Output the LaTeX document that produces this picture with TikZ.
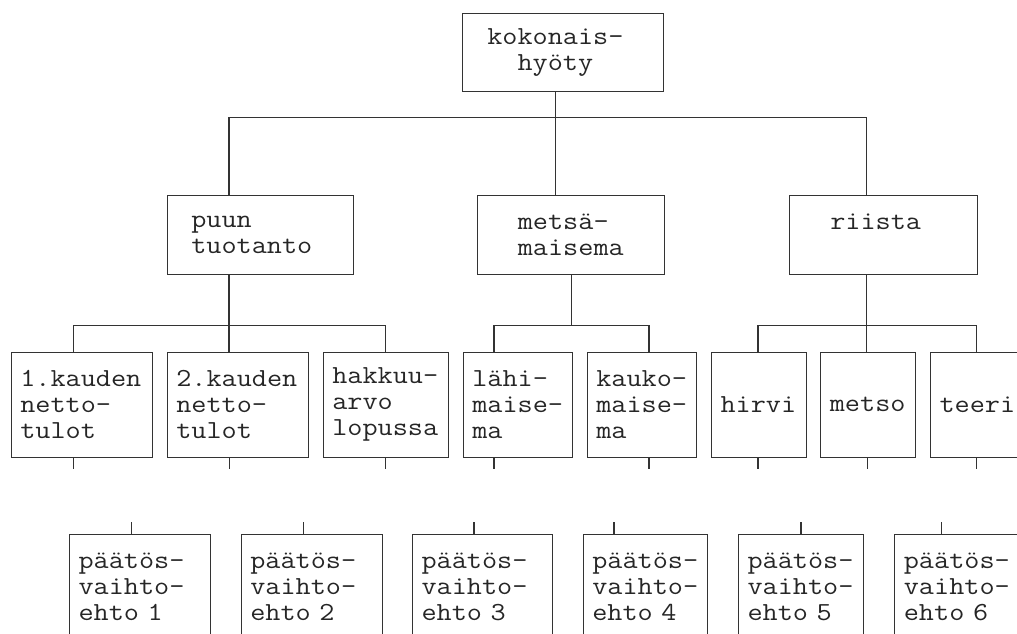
\documentclass[tikz,border=0pt]{standalone}
\usepackage{fontspec}
\usepackage{tikz}
\usetikzlibrary{positioning,calc}
\newfontfamily\boxfont[FakeStretch=1.13]{Latin Modern Mono}
\tikzstyle{box} = [draw=black!80, line width=1.1pt, rectangle, anchor=north west,
    align=left, inner xsep=9pt, inner ysep=0pt, text=black!85,
    font=\boxfont\fontsize{26}{26}\selectfont]
\tikzstyle{goal} = [box, minimum height=78.3pt]
\tikzstyle{crit} = [box, minimum height=105pt]
\tikzstyle{alt} = [box, minimum height=105pt]
\tikzstyle{link} = [draw=black!80, line width=1.1pt]
\begin{document}
\begin{tikzpicture}[x=1pt, y=-1pt]
		\path[use as bounding box, clip] (0,0) rectangle (1017,633);

		% top and second level
		\node[goal, text width=151.6pt, inner xsep=25pt] (total) at (461.7,12.7) {kokonais-\\\phantom{ko}hyöty};
		\node[goal, text width=138.6pt, inner xsep=24pt] (wood) at (166.7,195.3) {puun\\tuotanto};
		\node[goal, text width=106.7pt, inner xsep=40pt] (view) at (477.3,195.3) {metsä-\\maisema};
		\node[goal, text width=106.3pt, inner xsep=41pt] (game) at (788.7,195.3) {riista\\~};

		% criteria
		\node[crit, text width=123.6pt] (c1) at (10.7,351.7) {1.kauden\\netto-\\tulot};
		\node[crit, text width=123.3pt] (c2) at (166.7,351.7) {2.kauden\\netto-\\tulot};
		\node[crit, text width=107pt] (c3) at (322.7,351.7) {hakkuu-\\arvo\\lopussa};
		\node[crit, text width=91.3pt] (c4) at (462.7,351.7) {lähi-\\maise-\\ma};
		\node[crit, text width=91.3pt] (c5) at (586.7,351.7) {kauko-\\maise-\\ma};
		\node[crit, text width=76.7pt] (c6) at (711,351.7) {hirvi};
		\node[crit, text width=76.7pt] (c7) at (820.3,351.7) {metso};
		\node[crit, text width=76.7pt] (c8) at (930,351.7) {teeri};

		% alternatives
		\node[alt, text width=123.3pt] (a1) at (69,534) {päätös-\\vaihto-\\ehto 1};
		\node[alt, text width=123pt] (a2) at (240.7,534) {päätös-\\vaihto-\\ehto 2};
		\node[alt, text width=122pt] (a3) at (412,534) {päätös-\\vaihto-\\ehto 3};
		\node[alt, text width=106.6pt] (a4) at (582.7,534) {päätös-\\vaihto-\\ehto 4};
		\node[alt, text width=107.3pt] (a5) at (738,534) {päätös-\\vaihto-\\ehto 5};
		\node[alt, text width=107.3pt] (a6) at (894.3,534) {päätös-\\vaihto-\\ehto 6};

		% buses
		\coordinate (t1) at (229,117.3);
		\coordinate (t2) at (555.3,117.3);
		\coordinate (t3) at (866.7,117.3);
		\coordinate (w1) at (73.7,325.3);
		\coordinate (w2) at (229,325.3);
		\coordinate (w3) at (385.7,325.3);
		\coordinate (v1) at (494,325.3);
		\coordinate (v2) at (649,325.3);
		\coordinate (g1) at (758,325.3);
		\coordinate (g2) at (866.7,325.3);
		\coordinate (g3) at (976.7,325.3);

		\draw[link] (total.south -| t2) -- (t2);
		\draw[link] (wood.north -| t1) -- (t1) -- (t3) -- (game.north -| t3);
		\draw[link] (t2) -- (view.north -| t2);

		\draw[link] (wood.south -| w2) -- (c2.north -| w2);
		\draw[link] (c1.north -| w1) -- (w1) -- (w3) -- (c3.north -| w3);
		\draw[link] (view.south) -- (view.south |- v1);
		\draw[link] (c4.north -| v1) -- (v1) -- (v2) -- (c5.north -| v2);
		\draw[link] (game.south -| g2) -- (c7.north -| g2);
		\draw[link] (c6.north -| g1) -- (g1) -- (g3) -- (c8.north -| g3);

		% loose ends
		\foreach \n/\dx in {c1/63, c2/62.6, c3/63, c4/31.3, c5/62.3, c6/47, c7/47.4, c8/46.7}
			\draw[link] ([xshift=\dx pt]\n.south west) -- ++(0,11.6);
		\foreach \n/\dx in {a1/62.7, a2/62.6, a3/62, a4/31.3, a5/63, a6/47.4}
			\draw[link] ([xshift=\dx pt]\n.north west) -- ++(0,-12.3);
	\end{tikzpicture}
\end{document}
